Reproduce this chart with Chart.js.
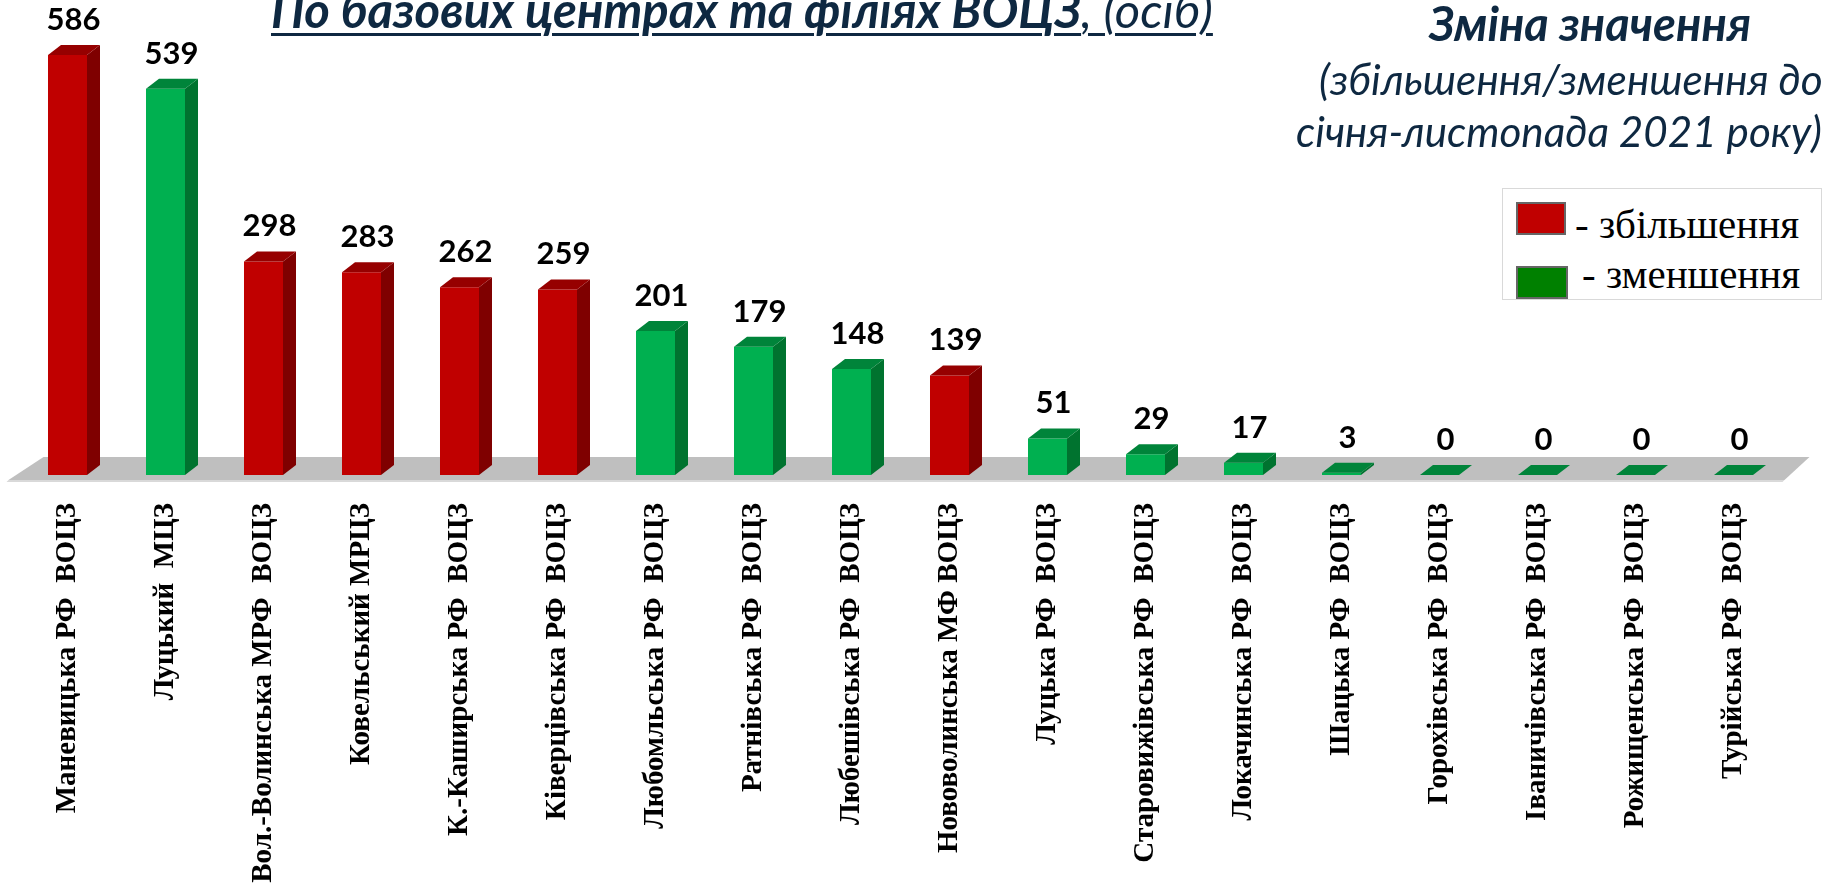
<!DOCTYPE html>
<html><head><meta charset="utf-8">
<script src="https://cdn.jsdelivr.net/npm/chart.js@4.4.1/dist/chart.umd.min.js"></script>
<style>
html,body{margin:0;padding:0;background:#fff;width:1825px;height:885px;overflow:hidden;}
#wrap{position:relative;width:1825px;height:885px;}
canvas{position:absolute;left:0;top:0;}
.t{position:absolute;white-space:nowrap;color:#0e2841;font-family:Lato,sans-serif;line-height:1;}
.lg{position:absolute;white-space:nowrap;color:#000;font-family:"Liberation Serif","Times New Roman",serif;font-size:41px;line-height:1;}
.sw{position:absolute;width:50px;height:33px;border:2px solid #666;box-sizing:border-box;}
</style></head><body>
<div id="wrap">
<canvas id="c" width="1825" height="885"></canvas>
<div class="t" style="left:271px;top:-15.5px;font-size:49px;font-style:italic;text-decoration:underline;text-decoration-thickness:3px;text-underline-offset:5px;"><b>По базових центрах та філіях ВОЦЗ</b>, (осіб)</div>
<div class="t" style="left:1429px;top:0px;font-size:47px;font-style:italic;font-weight:bold;">Зміна значення</div>
<div class="t" style="left:1319px;top:57.5px;font-size:42.3px;font-style:italic;">(збільшення/зменшення до</div>
<div class="t" style="left:1296px;top:110px;font-size:42.2px;font-style:italic;">січня-листопада 2021 року)</div>
<div style="position:absolute;left:1502px;top:188px;width:320px;height:112px;border:1px solid #d9d9d9;box-sizing:border-box;background:#fff;"></div>
<div class="sw" style="left:1516px;top:202px;background:#c00000;"></div>
<div class="lg" style="left:1575px;top:204px;">- збільшення</div>
<div class="sw" style="left:1516px;top:266px;width:52px;background:#008000;"></div>
<div class="lg" style="left:1582px;top:254px;">- зменшення</div>
</div>
<script>
const categories = [
  'Маневицька РФ  ВОЦЗ','Луцький  МЦЗ','Вол.-Волинська МРФ  ВОЦЗ','Ковельський МРЦЗ',
  'К.-Каширська РФ  ВОЦЗ','Ківерцівська РФ  ВОЦЗ','Любомльська РФ  ВОЦЗ','Ратнівська РФ  ВОЦЗ',
  'Любешівська РФ  ВОЦЗ','Нововолинська МФ ВОЦЗ','Луцька РФ  ВОЦЗ','Старовижівська РФ  ВОЦЗ',
  'Локачинська РФ  ВОЦЗ','Шацька РФ  ВОЦЗ','Горохівська РФ  ВОЦЗ','Іваничівська РФ  ВОЦЗ',
  'Рожищенська РФ  ВОЦЗ','Турійська РФ  ВОЦЗ'
];
const values = [586,539,298,283,262,259,201,179,148,139,51,29,17,3,0,0,0,0];
const direction = ['up','down','up','up','up','up','down','down','down','up','down','down','down','down','down','down','down','down'];

const palette = {
  up:   {front:'#c00000', side:'#7f0000', top:'#960000'},
  down: {front:'#00b050', side:'#00732f', top:'#00843a'}
};
const DX = 13, DY = 10;

const bar3d = {
  id:'bar3d',
  beforeDatasetsDraw(chart){
    const ctx = chart.ctx, a = chart.chartArea;
    const base = chart.scales.y.getPixelForValue(0);
    ctx.save();
    ctx.fillStyle = '#bfbfbf';
    ctx.beginPath();
    ctx.moveTo(a.left - 10, base + 5);
    ctx.lineTo(a.left + 25, base - 18);
    ctx.lineTo(a.right + 27, base - 18);
    ctx.lineTo(a.right + 2, base + 5);
    ctx.closePath();
    ctx.fill();
    ctx.fillStyle = '#d9d9d9';
    ctx.beginPath();
    ctx.moveTo(a.left - 10, base + 5);
    ctx.lineTo(a.right + 2, base + 5);
    ctx.lineTo(a.right + 0, base + 7);
    ctx.lineTo(a.left - 12, base + 7);
    ctx.closePath();
    ctx.fill();
    ctx.restore();
  },
  afterDatasetsDraw(chart){
    const ctx = chart.ctx;
    const meta = chart.getDatasetMeta(0);
    ctx.save();
    meta.data.forEach((b,i)=>{
      const p = b.getProps(['x','y','base','width'], true);
      const l = p.x - p.width/2, r = p.x + p.width/2;
      const c = palette[direction[i]];
      ctx.fillStyle = c.side;
      ctx.beginPath();
      ctx.moveTo(r, p.y); ctx.lineTo(r+DX, p.y-DY); ctx.lineTo(r+DX, p.base-DY); ctx.lineTo(r, p.base);
      ctx.closePath(); ctx.fill();
      ctx.fillStyle = c.top;
      ctx.beginPath();
      ctx.moveTo(l, p.y); ctx.lineTo(l+DX, p.y-DY); ctx.lineTo(r+DX, p.y-DY); ctx.lineTo(r, p.y);
      ctx.closePath(); ctx.fill();
      ctx.fillStyle = '#000';
      ctx.font = 'bold 31px Lato';
      ctx.textAlign = 'center';
      ctx.textBaseline = 'alphabetic';
      ctx.fillText(String(values[i]), p.x + 6, p.y - 25);
    });
    ctx.restore();
  }
};

new Chart(document.getElementById('c'), {
  type:'bar',
  data:{
    labels: categories,
    datasets:[{
      data: values,
      backgroundColor: direction.map(d=>palette[d].front),
      borderWidth:0,
      barPercentage:0.398,
      categoryPercentage:1
    }]
  },
  options:{
    responsive:false,
    animation:false,
    layout:{padding:{left:18.5,right:42.5,top:45,bottom:0}},
    plugins:{legend:{display:false},tooltip:{enabled:false},title:{display:false}},
    scales:{
      x:{
        grid:{display:false,drawTicks:false},
        border:{display:false},
        ticks:{minRotation:90,maxRotation:90,autoSkip:false,padding:28,labelOffset:0,color:'#000',
          font:{family:'Liberation Serif',weight:'bold',size:29}},
        afterFit(s){ s.height = 410; }
      },
      y:{display:false,min:0,max:600}
    }
  },
  plugins:[bar3d]
});
</script>
</body></html>
